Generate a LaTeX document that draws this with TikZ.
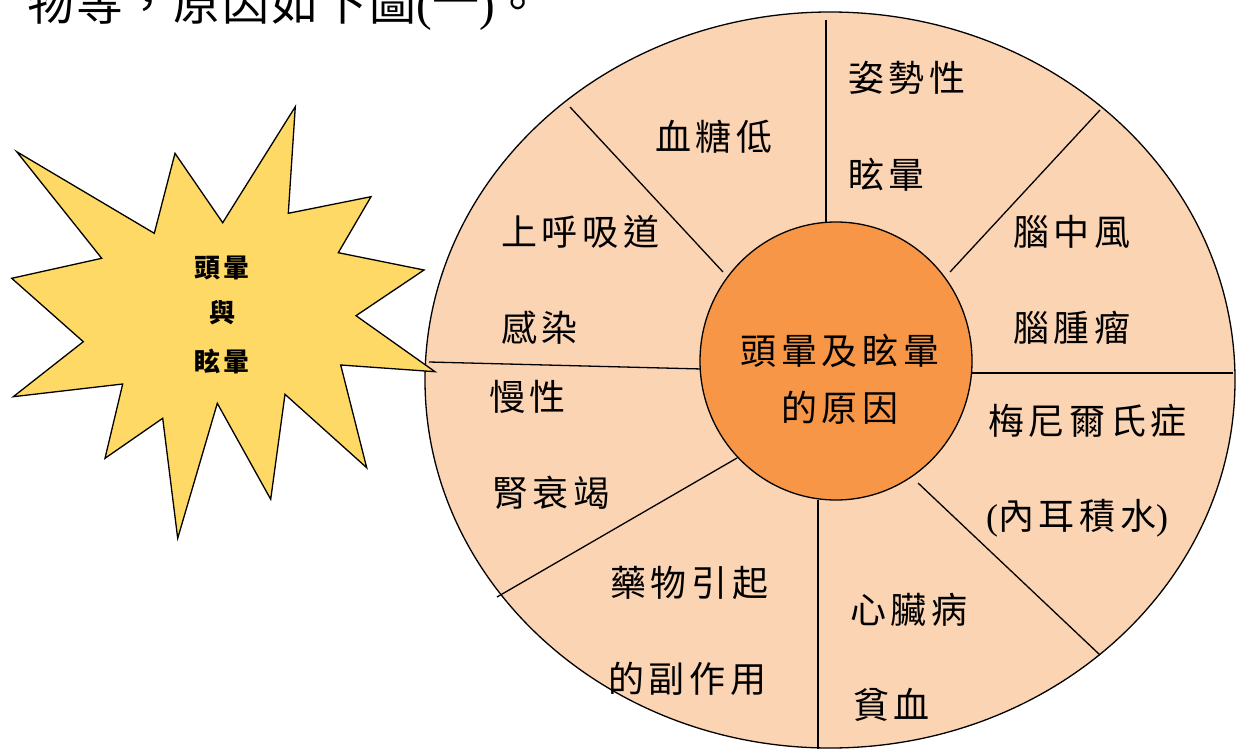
\documentclass[tikz,border=0pt]{standalone}
\usepackage{fontspec}
\setmainfont{Liberation Serif}
\newfontfamily\cjk[LetterSpace=13]{Noto Sans CJK TC}
\newfontfamily\cjkstar[LetterSpace=12]{Noto Sans CJK TC}
\newfontfamily\cjktop[LetterSpace=4]{Noto Sans CJK TC}
\usetikzlibrary{shapes.geometric}
\definecolor{wheelfill}{HTML}{FBD4B4}
\definecolor{corefill}{HTML}{F79646}
\definecolor{starfill}{HTML}{FFD966}
\tikzset{
  lbl/.style={inner sep=0pt, anchor=west, font=\cjk\fontsize{36}{40}\selectfont},
  corelbl/.style={inner sep=0pt, font=\cjk\fontsize{36}{40}\selectfont},
  starlbl/.style={inner sep=0pt, font=\cjkstar\bfseries\fontsize{26}{28}\selectfont},
  spoke/.style={draw=black, line width=1.3pt},
  rim/.style={draw=black, line width=1.3pt},
}
\begin{document}
\begin{tikzpicture}[x=1pt,y=-1pt]
\useasboundingbox (0,0) rectangle (1238,749);
\clip (0,0) rectangle (1238,749);
% top text (cut off)
\node[inner sep=0pt, anchor=base west, font=\cjktop\fontsize{47}{50}\selectfont] (toptext) at (27,21) {物等，原因如下圖{\rmfamily(}\raisebox{2pt}{一}{\rmfamily)}。};
% wheel
\node[ellipse, rim, fill=wheelfill, minimum width=810, minimum height=736, inner sep=0pt] (wheel) at (830,380) {};
% spoke end points
\coordinate (s1a) at (826,20);  \coordinate (s1b) at (826,222);
\coordinate (s2a) at (570,107); \coordinate (s2b) at (723,272);
\coordinate (s3a) at (1100,110);\coordinate (s3b) at (950,272);
\coordinate (s4a) at (429,362); \coordinate (s4b) at (702,369);
\coordinate (s5a) at (972,373); \coordinate (s5b) at (1233,373);
\coordinate (s6a) at (737,458); \coordinate (s6b) at (497,597);
\coordinate (s7a) at (918,483); \coordinate (s7b) at (1100,655);
\coordinate (s8a) at (818,500); \coordinate (s8b) at (818,749);
\foreach \i in {1,...,8} { \draw[spoke] (s\i a) -- (s\i b); }
% core
\node[ellipse, rim, fill=corefill, minimum width=272, minimum height=278, inner sep=0pt] (core) at (836,361) {};
\node[corelbl] (c1) at (840,351) {頭暈及眩暈};
\node[corelbl] (c2) at (840,408) {的原因};
% labels
\node[lbl] (l1a) at (848,78) {姿勢性};
\node[lbl] (l1b) at (848,175) {眩暈};
\node[lbl] (l2) at (655,137) {血糖低};
\node[lbl] (l3a) at (1013,232) {腦中風};
\node[lbl] (l3b) at (1013,328) {腦腫瘤};
\node[lbl] (l4a) at (501,232) {上呼吸道};
\node[lbl] (l4b) at (501,328) {感染};
\node[lbl] (l5a) at (489,397) {慢性};
\node[lbl] (l5b) at (492,493) {腎衰竭};
\node[lbl] (l6a) at (988,421) {梅尼爾氏症};
\node[lbl] (l6b) at (986,518) {{\rmfamily(}內耳積水{\rmfamily)}};
\node[lbl] (l7a) at (610,583) {藥物引起};
\node[lbl] (l7b) at (608,679) {的副作用};
\node[lbl] (l8a) at (850,610) {心臟病};
\node[lbl] (l8b) at (853,705) {貧血};
% starburst
\draw[line width=1.3pt, fill=starfill, line join=miter]
 (16.7,151.7) -- (101.7,258.3) -- (11.7,278.3) -- (83.3,341.7) -- (13.3,396.7)
 -- (122.7,384) -- (105,458.3) -- (162.7,418.3) -- (177.7,538.3) -- (217.3,403.3)
 -- (270.7,499.3) -- (285,394.3) -- (366.7,467.7) -- (340.7,365) -- (435,371.7)
 -- (356,315.7) -- (424,270) -- (338.3,252.7) -- (371,196.7) -- (288.3,213.3)
 -- (295.3,106.7) -- (222.7,222.7) -- (175,153.3) -- (154.3,233.3) -- cycle;
\node[starlbl] (t1) at (222,268) {頭暈};
\node[starlbl] (t2) at (222,313) {與};
\node[starlbl] (t3) at (222,361) {眩暈};
\end{tikzpicture}
\end{document}
